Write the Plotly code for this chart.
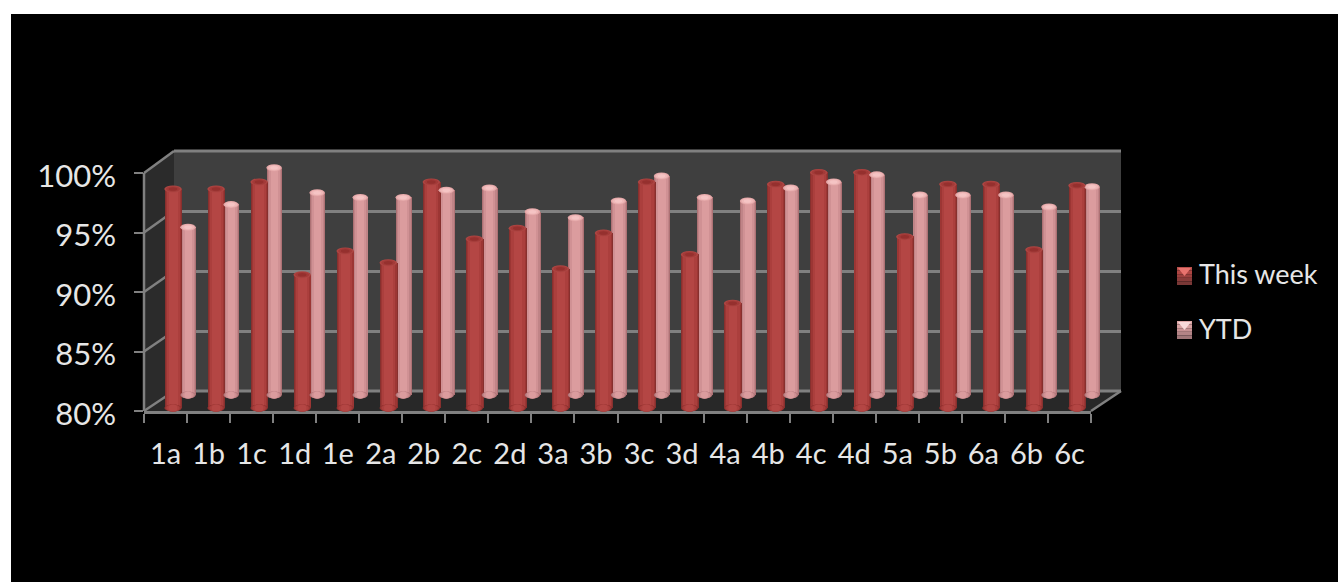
import plotly.graph_objects as go

categories = ["1a","1b","1c","1d","1e","2a","2b","2c","2d","3a","3b","3c","3d","4a","4b","4c","4d","5a","5b","6a","6b","6c"]
this_week = [98.4,98.4,99.0,91.2,93.2,92.2,99.0,94.2,95.1,91.7,94.7,99.0,92.9,88.8,98.8,99.8,99.8,94.4,98.8,98.8,93.3,98.7]
ytd = [94.1,96.0,99.1,97.0,96.6,96.6,97.2,97.4,95.4,94.9,96.3,98.4,96.6,96.3,97.4,97.9,98.5,96.8,96.8,96.8,95.8,97.5]
y_ticks = [80,85,90,95,100]
y_labels = ["80%","85%","90%","95%","100%"]

W, H = 1338, 582
FONT = "Lato"
TXT = "#e6e6e6"
GRID = "#808080"

def fx(p): return p / W
def fy(p): return 1 - p / H

def ydomain(p80, p100, pad=2.0):
    s = (p80 - p100) / 20.0
    return [fy(p80 + pad * s), fy(p100 - pad * s)], [80 - pad, 100 + pad]

fig = go.Figure()

fig.add_trace(go.Scatter(x=categories, y=[None]*len(categories), xaxis="x", yaxis="y", showlegend=False, hoverinfo="skip"))

pink_sh = [(1.0,"#ad7174"),(0.88,"#c08487"),(0.72,"#d09194"),(0.46,"#db9c9e")]
red_sh = [(1.0,"#87302e"),(0.9,"#9c3634"),(0.76,"#ab3f3d"),(0.5,"#b44644")]

def cylinder(vals, ax, width, shades, name):
    for i, (f, c) in enumerate(shades):
        fig.add_trace(go.Bar(x=categories, y=[v - 80 for v in vals], base=80, width=width * f,
                             marker=dict(color=c, line=dict(width=0)), xaxis="x" + ax, yaxis="y" + ax,
                             showlegend=False, name=name, hoverinfo="skip"))

cylinder(ytd, "2", 15.5/43.05, pink_sh, "YTD")
cylinder(this_week, "3", 17.5/43.05, red_sh, "This week")

fig.add_trace(go.Scatter(x=categories, y=[None]*len(categories), xaxis="x4", yaxis="y4", showlegend=False, hoverinfo="skip"))
fig.add_trace(go.Scatter(x=categories, y=[None]*len(categories), xaxis="x5", yaxis="y5", showlegend=False, hoverinfo="skip"))

fig.add_trace(go.Scatter(x=[None], y=[None], mode="markers", name="This week", legendgroup="a",
                         marker=dict(symbol="square", size=15, color="rgba(0,0,0,0)")))
fig.add_trace(go.Scatter(x=[None], y=[None], mode="markers", name="YTD", legendgroup="b",
                         marker=dict(symbol="square", size=15, color="rgba(0,0,0,0)")))

shapes = []
def poly(pts, color, layer="below"):
    path = "M " + " L ".join(f"{fx(a)},{fy(b)}" for a, b in pts) + " Z"
    shapes.append(dict(type="path", path=path, xref="paper", yref="paper", layer=layer,
                       fillcolor=color, line=dict(width=0)))
def seg(a, b, color=GRID, w=2.5):
    shapes.append(dict(type="line", xref="paper", yref="paper", layer="below",
                       x0=fx(a[0]), y0=fy(a[1]), x1=fx(b[0]), y1=fy(b[1]), line=dict(color=color, width=w)))

poly([(11,14),(W,14),(W,H),(11,H)], "#000000")
poly([(174,151),(1121,151),(1121,391),(174,391)], "#3f3f3f")
poly([(144,173),(174,151),(174,391),(144,411)], "#2b2b2b")
poly([(144,411),(174,391),(1121,391),(1091,411)], "#282828")
for t in y_ticks:
    k = (t - 80) / 20
    seg((144, 411 - 238 * k), (174, 391 - 240 * k))
seg((1091,411),(1121,391))
seg((144,173),(144,411))
seg((174,151),(1121,151), w=3)
seg((174,391),(1121,391), w=3)

def ell(xr, yr, c, v, wpx, hpx, color):
    shapes.append(dict(type="circle", xref=xr, yref=yr, xsizemode="pixel", ysizemode="pixel",
                       xanchor=c, yanchor=v, x0=-wpx/2, x1=wpx/2, y0=-hpx/2, y1=hpx/2,
                       fillcolor=color, line=dict(width=0), layer="above"))

def caps(vals, ax, wpx, hpx, shades, top):
    xr, yr = "x" + ax, "y" + ax
    for c, v in zip(categories, vals):
        for f, col in shades:
            ell(xr, yr, c, 80, wpx * f, hpx, col)
        for f, col in top:
            ell(xr, yr, c, v, wpx * f, hpx * f, col)

caps(ytd, "2", 15.5, 7, pink_sh, [(1.0,"#e3a6a7"),(0.8,"#efb8b8"),(0.5,"#f5c4c4")])
caps(this_week, "3", 17.5, 7, red_sh, [(1.0,"#ad4643"),(0.8,"#a33a38"),(0.5,"#95302e")])

def swatch(y0, bands, tri):
    for i, col in enumerate(bands):
        poly([(1177, y0 + i * 18 / len(bands)), (1192, y0 + i * 18 / len(bands)),
              (1192, y0 + (i + 1) * 18 / len(bands)), (1177, y0 + (i + 1) * 18 / len(bands))], col, "above")
    poly([(1178, y0 + 1), (1191, y0 + 1), (1184.5, y0 + 9)], tri, "above")
swatch(267, ["#b8504c","#ad4542","#9c403e","#8a3c3a","#7a3836"], "#e8736e")
swatch(321, ["#dca6a6","#d6a0a0","#c89294","#b48486","#a07678"], "#f7d8d8")

d2y, r2 = ydomain(395, 157)
d3y, r3 = ydomain(408, 170)
hidden = dict(visible=False, fixedrange=True)
cat_range = [-0.5, 21.5]

fig.update_layout(
    width=W, height=H, autosize=False, margin=dict(l=0, r=0, t=0, b=0, pad=0, autoexpand=False),
    paper_bgcolor="#ffffff", plot_bgcolor="rgba(0,0,0,0)", barmode="overlay", bargap=0,
    shapes=shapes, hovermode=False,
    font=dict(family=FONT, color=TXT, size=28),
    xaxis=dict(domain=[fx(174), fx(1121)], range=cat_range, type="category", categoryorder="array",
               categoryarray=categories, visible=True, showticklabels=False, ticks="", showline=False, showgrid=False, zeroline=False, anchor="y"),
    yaxis=dict(domain=[fy(391), fy(151)], range=[80,100], tickvals=y_ticks, showticklabels=False, ticks="",
               showgrid=True, gridcolor=GRID, gridwidth=3, zeroline=False, showline=False, anchor="x"),
    xaxis2=dict(domain=[fx(144+22.5), fx(1091+22.5)], range=cat_range, type="category", categoryorder="array",
                categoryarray=categories, anchor="y2", **hidden),
    yaxis2=dict(domain=d2y, range=r2, anchor="x2", **hidden),
    xaxis3=dict(domain=[fx(144+7.5), fx(1091+7.5)], range=cat_range, type="category", categoryorder="array",
                categoryarray=categories, anchor="y3", **hidden),
    yaxis3=dict(domain=d3y, range=r3, anchor="x3", **hidden),
    xaxis4=dict(domain=[fx(144), fx(1091)], range=cat_range, type="category", categoryorder="array",
                categoryarray=categories, tickmode="array", tickvals=categories, ticktext=categories, tickson="boundaries", ticks="outside", ticklen=9, tickwidth=2,
                tickcolor=GRID, showline=True, linecolor=GRID, linewidth=2.5, showgrid=False, zeroline=False, anchor="y4",
                tickfont=dict(family=FONT, size=29, color=TXT), tickangle=0, ticklabelstandoff=15),
    yaxis4=dict(domain=[fy(411), fy(173)], range=[80,100], tickvals=y_ticks, showticklabels=False, ticks="outside", ticklen=9, tickwidth=2,
                tickcolor=GRID, showline=False, showgrid=False, zeroline=False, anchor="x4"),
    # labels for the value axis sit slightly lower than its ticks
    xaxis5=dict(domain=[fx(144), fx(1091)], range=cat_range, type="category", categoryorder="array",
                categoryarray=categories, anchor="y5", **hidden),
    yaxis5=dict(domain=[fy(414), fy(176)], range=[80,100], tickvals=y_ticks, ticktext=y_labels, ticks="", showline=False,
                showgrid=False, zeroline=False, anchor="x5", ticklabelstandoff=27,
                tickfont=dict(family=FONT, size=31, color=TXT)),
    legend=dict(x=fx(1159), y=fy(249), xanchor="left", yanchor="top", bgcolor="rgba(0,0,0,0)", tracegroupgap=17,
                font=dict(family=FONT, size=27, color=TXT), itemclick=False, itemdoubleclick=False),
    showlegend=True,
)

fig.write_html("out.html", config={"displayModeBar": False},
               post_script="document.body.style.margin='0';document.body.style.overflow='hidden';")
